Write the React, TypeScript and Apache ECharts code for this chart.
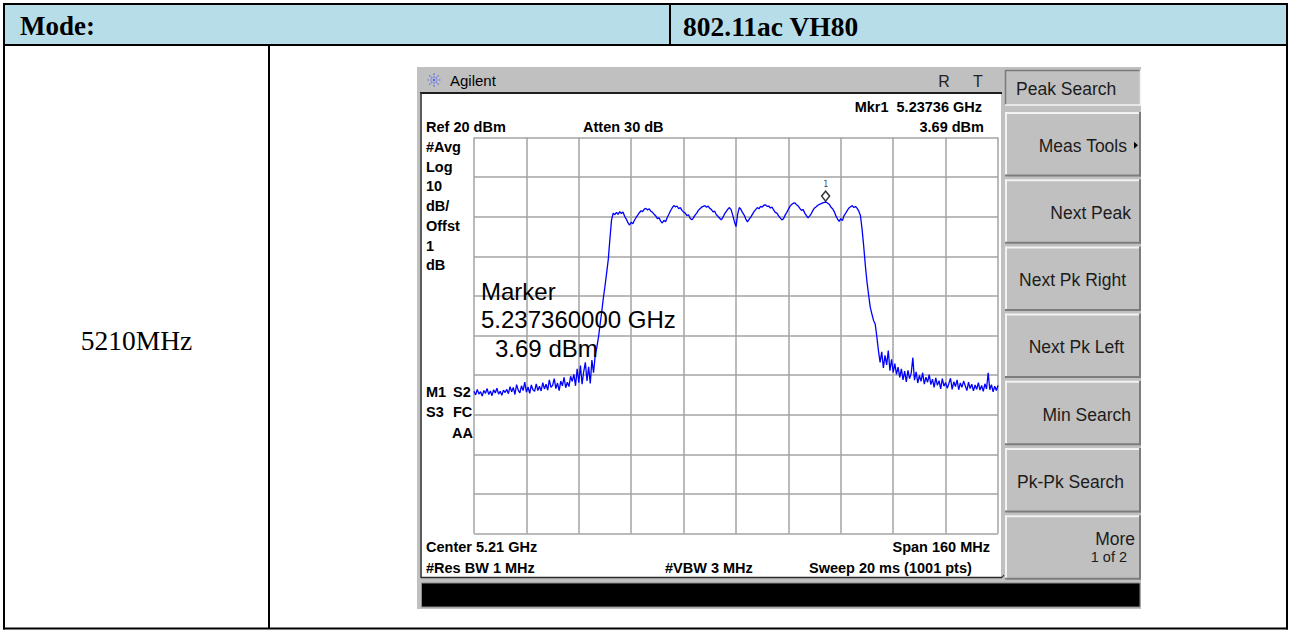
import React, { useEffect, useRef } from 'react';
import * as echarts from 'echarts';

// ---------- data ----------
const centerMHz = 5210;
const spanMHz = 160;
const refLevelDbm = 20;
const dbPerDiv = 10;
const sweepStartMHz = 5130;
const sweepStepMHz = 0.5;

// trace level (dBm) read every 0.5 MHz from 5130 MHz to 5290 MHz
const traceDbm: number[] = [
  // 5130
  -44.1, -45.0, -43.6, -44.8, -44.2, -45.3, -43.9, -44.6, -43.4, -44.9, -44.0, -45.2, -43.7, -44.5, -43.3, -44.8, -44.1, -45.1, -43.8, -44.4,
  // 5140
  -43.6, -44.7, -42.9, -44.2, -43.1, -44.9, -42.4, -43.8, -44.5, -42.7, -43.9, -41.8, -44.3, -43.0, -44.6, -42.5, -43.7, -44.1, -42.2, -43.9,
  // 5150
  -42.8, -44.0, -41.9, -43.5, -42.3, -43.8, -41.2, -43.1, -42.6, -40.9, -43.4, -42.0, -43.9, -41.5, -42.7, -40.6, -43.2, -41.8, -42.9, -40.3,
  // 5160
  -41.6, -39.8, -42.7, -38.4, -41.9, -37.6, -42.3, -39.1, -36.8, -41.5, -37.9, -42.1, -36.2, -39.4, -35.1, -33.0, -30.5, -27.2, -24.0, -20.5,
  // 5170
  -17.5, -14.2, -10.8, -5.6, -0.8, 0.9, 0.5, 1.1, 0.6, 1.3, 0.8, 1.2, 0.1, -0.6, -1.5, -2.1, -1.4, -1.8, -0.9, -0.2,
  // 5180
  0.4, 1.0, 1.5, 1.3, 1.9, 2.1, 1.7, 2.0, 1.4, 1.1, 0.6, 0.2, -0.5, -0.3, -1.1, -1.6, -0.9, -1.3, -0.2, 0.6,
  // 5190
  1.5, 2.2, 2.8, 2.5, 2.7, 2.0, 2.3, 1.6, 1.2, 0.9, 0.3, 0.5, -0.4, -0.8, -0.3, 0.4, 0.9, 1.6, 2.0, 2.4,
  // 5200
  2.6, 2.8, 2.4, 2.7, 2.1, 1.8, 1.2, 1.4, 0.5, 0.1, -0.4, -0.8, -0.2, 0.7, 1.3, 1.9, 2.3, 1.8, 0.4, -1.2,
  // 5210
  -2.5, 0.6, 2.3, 1.9, 1.0, 0.4, -0.6, -1.3, -0.7, -0.1, 0.6, 1.3, 1.8, 2.3, 2.0, 2.6, 2.4, 2.9, 3.0, 2.6,
  // 5220
  2.7, 2.2, 2.4, 1.7, 1.1, 0.9, 0.2, -0.3, -0.8, -0.5, 0.4, 1.1, 1.9, 2.6, 3.1, 3.4, 3.5, 3.0, 2.7, 2.1,
  // 5230
  1.6, 1.8, 0.9, 0.3, -0.3, 0.2, 0.8, 1.6, 2.2, 2.5, 2.9, 3.1, 3.3, 3.5, 3.6, 3.69, 3.4, 3.1, 2.4, 2.0,
  // 5240
  1.3, 0.2, -0.6, -1.2, -0.5, -1.0, 0.3, 0.9, 1.6, 2.2, 2.5, 2.8, 2.3, 2.6, 2.1, 1.4, 0.3, -3.2, -7.5, -12.4,
  // 5250
  -16.5, -19.8, -22.9, -24.6, -26.2, -27.1, -30.3, -33.9, -36.8, -34.1, -38.2, -35.0, -37.4, -33.8, -38.9, -36.0, -39.3, -37.1, -39.8, -38.0,
  // 5260
  -40.6, -38.4, -41.2, -39.0, -41.7, -38.8, -40.9, -39.5, -35.6, -41.3, -39.2, -42.0, -40.1, -41.6, -39.4, -42.3, -40.5, -41.8, -39.9, -42.4,
  // 5270
  -41.0, -43.1, -40.7, -42.6, -41.4, -43.5, -40.9, -42.8, -41.9, -43.3, -42.1, -40.8, -43.6, -41.7, -42.9, -41.2, -43.7, -42.0, -43.1, -41.5,
  // 5280
  -42.7, -43.9, -41.8, -43.4, -42.3, -44.0, -42.5, -43.6, -41.9, -43.8, -42.6, -44.1, -42.2, -43.5, -39.4, -43.7, -42.4, -44.2, -42.8, -43.9,
  // 5290
  -42.6,
];

const markerMHz = 5237.36;
const markerDbm = 3.69;

const headerLeft = 'Mode:';
const headerRight = '802.11ac VH80';
const rowLabel = '5210MHz';

const brandLabel = 'Agilent';
const statusLabels = ['R', 'T'];
const markerReadout = ['Mkr1  5.23736 GHz', '3.69 dBm'];
const topInfo = ['Ref 20 dBm', 'Atten 30 dB'];
const leftInfo = ['#Avg', 'Log', '10', 'dB/', 'Offst', '1', 'dB'];
const bottomInfo = ['Center 5.21 GHz', 'Span 160 MHz', '#Res BW 1 MHz', '#VBW 3 MHz', 'Sweep 20 ms (1001 pts)'];
const markerBig = ['Marker', '5.237360000 GHz', '3.69 dBm'];
const softkeyTitle = 'Peak Search';
const softkeys = ['Meas Tools', 'Next Peak', 'Next Pk Right', 'Next Pk Left', 'Min Search', 'Pk-Pk Search', 'More'];
const softkeySub = '1 of 2';

// ---------- drawing helpers ----------
const SANS = '"Liberation Sans", Arial, sans-serif';
const SERIF = '"Liberation Serif", "Times New Roman", serif';

function txt(x: number, y: number, text: string, o: any = {}) {
  const align = o.align ?? 'left';
  return {
    type: 'text', x, y, z: 20, silent: true,
    style: {
      text, fill: o.fill ?? '#000', fontSize: o.size ?? 14.5, fontFamily: o.family ?? SANS,
      fontWeight: o.weight ?? 'bold', align, textAlign: align,
      verticalAlign: 'middle', textVerticalAlign: 'middle',
    },
  };
}
function ln(x1: number, y1: number, x2: number, y2: number, stroke: string, lineWidth = 2, z = 2) {
  return { type: 'line', z, silent: true, shape: { x1, y1, x2, y2 }, style: { stroke, lineWidth } };
}
function rc(x: number, y: number, width: number, height: number, fill: string, z = 1, stroke?: string) {
  return { type: 'rect', z, silent: true, shape: { x, y, width, height }, style: stroke ? { fill, stroke, lineWidth: 1 } : { fill } };
}

function buildGraphic() {
  const g: any[] = [];
  // ---- table ----
  g.push(rc(4, 4, 1283, 41, '#b7dee8', 1));
  g.push(ln(3, 4, 1288, 4, '#000', 2, 3));
  g.push(ln(3, 45, 1288, 45, '#000', 2, 3));
  g.push(ln(3, 628.5, 1288, 628.5, '#000', 2, 3));
  g.push(ln(4, 3, 4, 629.5, '#000', 2, 3));
  g.push(ln(1287, 3, 1287, 629.5, '#000', 2, 3));
  g.push(ln(670, 4, 670, 45, '#000', 2, 3));
  g.push(ln(269, 45, 269, 628.5, '#000', 2, 3));
  g.push(txt(20, 26, headerLeft, { family: SERIF, size: 27, weight: 'bold' }));
  g.push(txt(683, 26, headerRight, { family: SERIF, size: 27.5, weight: 'bold' }));
  g.push(txt(136.5, 340, rowLabel, { family: SERIF, size: 27.5, weight: 'normal', align: 'center' }));

  // ---- analyzer screen ----
  g.push(rc(417, 67, 724, 542, '#c0c0c0', 1));
  g.push(rc(422, 94, 579, 483, '#ffffff', 1));
  g.push(ln(420, 93, 1002, 93, '#1e1e1e', 2, 3));
  g.push(ln(421, 93, 421, 578, '#3a3a3a', 1.5, 3));
  g.push(ln(421, 577.5, 1002, 577.5, '#2a2a2a', 1.5, 3));
  g.push(ln(1002, 577.5, 1004, 575, '#2a2a2a', 1.2, 3));
  g.push(rc(421.5, 583, 718.5, 24, '#000000', 2, '#8a8a8a'));

  // brand icon
  const cx = 434, cy = 80;
  for (let k = 0; k < 8; k++) {
    const a = (k * Math.PI) / 4;
    g.push({
      type: 'line', z: 4, silent: true,
      shape: { x1: cx + 2.5 * Math.cos(a), y1: cy + 2.5 * Math.sin(a), x2: cx + 7.5 * Math.cos(a), y2: cy + 7.5 * Math.sin(a) },
      style: { stroke: '#4a5cff', lineWidth: 1.2, lineDash: [1.3, 1.3] },
    });
  }
  g.push({ type: 'circle', z: 4, silent: true, shape: { cx, cy, r: 1.2 }, style: { fill: '#4a5cff' } });
  g.push(txt(450, 80, brandLabel, { size: 15, weight: 'normal' }));
  g.push(txt(944, 81, statusLabels[0], { size: 16, weight: 'normal', align: 'center', fill: '#222' }));
  g.push(txt(978, 81, statusLabels[1], { size: 16, weight: 'normal', align: 'center', fill: '#222' }));

  // readouts
  g.push(txt(982, 106.5, markerReadout[0], { align: 'right' }));
  g.push(txt(984, 127, markerReadout[1], { align: 'right' }));
  g.push(txt(426, 127, topInfo[0]));
  g.push(txt(583, 127, topInfo[1]));
  leftInfo.forEach((t, i) => g.push(txt(426, 147 + i * 19.7, t)));
  g.push(txt(426, 392, 'M1'));
  g.push(txt(453, 392, 'S2'));
  g.push(txt(426, 412, 'S3'));
  g.push(txt(453, 412, 'FC'));
  g.push(txt(473, 432.5, 'AA', { align: 'right' }));
  g.push(txt(426, 547, bottomInfo[0]));
  g.push(txt(990, 547, bottomInfo[1], { align: 'right' }));
  g.push(txt(426, 567.5, bottomInfo[2]));
  g.push(txt(665, 567.5, bottomInfo[3]));
  g.push(txt(809, 567.5, bottomInfo[4]));

  // big marker text
  g.push(txt(481, 291.5, markerBig[0], { size: 24, weight: 'normal' }));
  g.push(txt(481, 319.5, markerBig[1], { size: 24, weight: 'normal' }));
  g.push(txt(495, 348.5, markerBig[2], { size: 24, weight: 'normal' }));

  // softkey title box (sunken)
  g.push(rc(1005, 70, 135, 35, '#c0c0c0', 2));
  g.push(ln(1005, 70.5, 1140, 70.5, '#7a7a7a', 1.5, 3));
  g.push(ln(1005.5, 70, 1005.5, 105, '#7a7a7a', 1.5, 3));
  g.push(ln(1005, 105, 1141, 105, '#f4f4f4', 1.5, 3));
  g.push(ln(1140.5, 70, 1140.5, 105, '#f4f4f4', 1.5, 3));
  g.push(txt(1016, 88.5, softkeyTitle, { size: 17.5, weight: 'normal', fill: '#1c1c1c' }));

  // raised buttons
  const rightEdges = [1127, 1131, 1126, 1124, 1131, 1124, 1135];
  softkeys.forEach((label, i) => {
    const top = 112 + i * 67.2;
    const h = 64.5;
    g.push(rc(1005, top, 136, h, '#c0c0c0', 2));
    g.push(ln(1005, top + 1, 1141, top + 1, '#f2f2f2', 2, 3));
    g.push(ln(1006, top, 1006, top + h, '#f2f2f2', 2, 3));
    g.push(ln(1005, top + h - 1, 1141, top + h - 1, '#7c7c7c', 2, 4));
    g.push(ln(1140, top, 1140, top + h, '#7c7c7c', 2, 4));
    const mid = top + h / 2;
    if (i === softkeys.length - 1) {
      g.push(txt(rightEdges[i], mid - 8, label, { size: 17.5, weight: 'normal', align: 'right', fill: '#1c1c1c' }));
      g.push(txt(1127, mid + 10, softkeySub, { size: 14.5, weight: 'normal', align: 'right', fill: '#1c1c1c' }));
    } else {
      g.push(txt(rightEdges[i], mid + 1.5, label, { size: 17.5, weight: 'normal', align: 'right', fill: '#1c1c1c' }));
    }
    if (i === 0) {
      g.push({ type: 'polygon', z: 20, silent: true, shape: { points: [[1134, mid - 2.5], [1138, mid + 1], [1134, mid + 4.5]] }, style: { fill: '#000' } });
    }
  });
  return g;
}

function buildOption() {
  const half = spanMHz / 2;
  const bottomDbm = refLevelDbm - 10 * dbPerDiv;
  const trace = traceDbm.map((v, i) => [sweepStartMHz + i * sweepStepMHz - centerMHz, v]);
  const axisCommon = {
    axisLine: { show: false }, axisTick: { show: false }, axisLabel: { show: false },
    splitLine: { show: true, lineStyle: { color: '#a3a3a3', width: 1.5 } }, z: 5,
  };
  return {
    animation: false,
    backgroundColor: '#ffffff',
    grid: { left: 474, top: 137.5, width: 524, height: 396, show: false },
    xAxis: { type: 'value', min: -half, max: half, interval: spanMHz / 10, ...axisCommon },
    yAxis: { type: 'value', min: bottomDbm, max: refLevelDbm, interval: dbPerDiv, ...axisCommon },
    series: [
      {
        type: 'line', data: trace, symbol: 'none', showSymbol: false, silent: true, z: 8,
        lineStyle: { color: '#0000ff', width: 1.3 },
      },
      {
        type: 'scatter', data: [[markerMHz - centerMHz, markerDbm]], symbol: 'diamond', symbolSize: [8, 10],
        symbolOffset: [0, -6], silent: true, z: 9,
        itemStyle: { color: '#ffffff', borderColor: '#000000', borderWidth: 1.5 },
        label: { show: true, formatter: '1', position: 'top', distance: 2, fontSize: 8, color: '#000', fontFamily: 'DejaVu Sans Mono, monospace' },
      },
    ],
    graphic: buildGraphic(),
  };
}

export default function App() {
  const ref = useRef<HTMLDivElement>(null);
  useEffect(() => {
    const el = ref.current;
    if (!el) return;
    const chart = echarts.init(el, null, { renderer: 'svg', width: 1290, height: 630 });
    chart.setOption(buildOption() as any);
    return () => chart.dispose();
  }, []);
  return <div ref={ref} style={{ position: 'fixed', left: 0, top: 0, width: 1290, height: 630, background: '#fff' }} />;
}
